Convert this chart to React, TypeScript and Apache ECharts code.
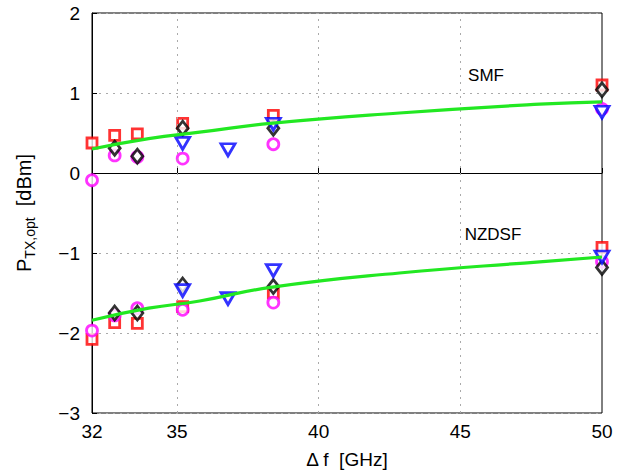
import React, { useEffect, useRef } from "react";
import * as echarts from "echarts";

const xTicks = [32, 35, 40, 45, 50];
const xGrid = [35, 40, 45];

const squares: number[][] = [
  [32, 0.375], [32.8, 0.47], [33.6, 0.49], [35.2, 0.62], [38.4, 0.72], [50, 1.1],
  [32, -2.08], [32.8, -1.87], [33.6, -1.88], [35.2, -1.67], [38.4, -1.5], [50, -0.93],
];
const circles: number[][] = [
  [32, -0.09], [32.8, 0.22], [33.6, 0.2], [35.2, 0.18], [38.4, 0.36], [50, 0.8],
  [32, -1.97], [32.8, -1.78], [33.6, -1.69], [35.2, -1.71], [38.4, -1.62], [50, -1.11],
];
const diamonds: number[][] = [
  [32.8, 0.31], [33.6, 0.21], [35.2, 0.56], [38.4, 0.56], [50, 1.04],
  [32.8, -1.75], [33.6, -1.75], [35.2, -1.4], [38.4, -1.42], [50, -1.18],
];
const triangles: number[][] = [
  [35.2, 0.37], [36.8, 0.29], [38.4, 0.61], [50, 0.76],
  [35.2, -1.47], [36.8, -1.57], [38.4, -1.22], [50, -1.05],
];
const fitX = [32, 34, 35.8, 38.3, 42.85, 47.8, 50];
const fitSMF = [0.3, 0.43, 0.51, 0.62, 0.75, 0.86, 0.89];
const fitNZDSF = [-1.84, -1.69, -1.6, -1.43, -1.25, -1.11, -1.05];

const FONT = "Liberation Sans, Arial, sans-serif";

export default function App() {
  const ref = useRef<HTMLDivElement>(null);
  useEffect(() => {
    if (!ref.current) return;
    const chart = echarts.init(ref.current, null, { renderer: "svg" });
    const hollow = (c: string) => ({ color: "#fff", borderColor: c, borderWidth: 2.8 });
    const minus = (v: number) => String(v).replace("-", "\u2212");
    chart.setOption({
      animation: false,
      backgroundColor: "#fff",
      grid: { left: 92, right: 15, top: 13, bottom: 63, show: true, borderColor: "#000", borderWidth: 1, backgroundColor: "transparent" },
      xAxis: {
        type: "value", min: 32, max: 50,
        name: "\u0394 f  [GHz]", nameLocation: "middle", nameGap: 37,
        nameTextStyle: { fontFamily: FONT, fontSize: 19, color: "#000" },
        axisLine: { show: true, lineStyle: { color: "#000" } },
        axisTick: { show: true, inside: true, length: 5, customValues: xTicks, lineStyle: { color: "#000" } },
        axisLabel: { customValues: xTicks, fontFamily: FONT, fontSize: 19, color: "#000", margin: 9 },
        splitLine: { show: false },
      },
      yAxis: {
        type: "value", min: -3, max: 2, interval: 1,
        name: "{p|P}{s|TX,opt}{p|  [dBm]}", nameLocation: "middle", nameGap: 55, nameRotate: 90,
        nameTextStyle: {
          color: "#000",
          rich: {
            p: { fontFamily: FONT, fontSize: 20, color: "#000" },
            s: { fontFamily: FONT, fontSize: 14, color: "#000", padding: [12, 0, 0, 0] },
          },
        },
        axisLine: { show: true, lineStyle: { color: "#000" } },
        axisTick: { show: true, inside: true, length: 5, lineStyle: { color: "#000" } },
        axisLabel: { fontFamily: FONT, fontSize: 19, color: "#000", margin: 12, formatter: minus },
        splitLine: { show: true, lineStyle: { color: "#aaa", type: [2, 5], width: 1 } },
      },
      series: [
        {
          type: "scatter", data: squares, symbol: "rect", symbolSize: 10, itemStyle: hollow("#ff0000"), z: 3,
          markLine: {
            silent: true, symbol: "none", label: { show: false },
            lineStyle: { color: "#aaa", type: [2, 5], width: 1 },
            data: xGrid.map((v) => ({ xAxis: v })),
          },
        },
        { type: "scatter", data: circles, symbol: "circle", symbolSize: 11, itemStyle: hollow("#ff00ff"), z: 4 },
        { type: "scatter", data: diamonds, symbol: "diamond", symbolSize: [11, 14], itemStyle: hollow("#000000"), z: 5 },
        { type: "scatter", data: triangles, symbol: "triangle", symbolRotate: 180, symbolSize: [14, 12], itemStyle: hollow("#0000ff"), z: 6 },
        { type: "line", data: fitX.map((x, i) => [x, fitSMF[i]]), smooth: true, showSymbol: false, lineStyle: { color: "#22e822", width: 3.2 }, z: 7 },
        { type: "line", data: fitX.map((x, i) => [x, fitNZDSF[i]]), smooth: true, showSymbol: false, lineStyle: { color: "#22e822", width: 3.2 }, z: 7 },
      ],
      graphic: [
        { type: "text", x: 486, y: 75, style: { text: "SMF", font: `17px ${FONT}`, fill: "#000", align: "center", verticalAlign: "middle" } },
        { type: "text", x: 493, y: 234, style: { text: "NZDSF", font: `17px ${FONT}`, fill: "#000", align: "center", verticalAlign: "middle" } },
      ],
    });
    return () => chart.dispose();
  }, []);
  return <div ref={ref} style={{ position: "fixed", left: 0, top: 0, width: 617, height: 476 }} />;
}
